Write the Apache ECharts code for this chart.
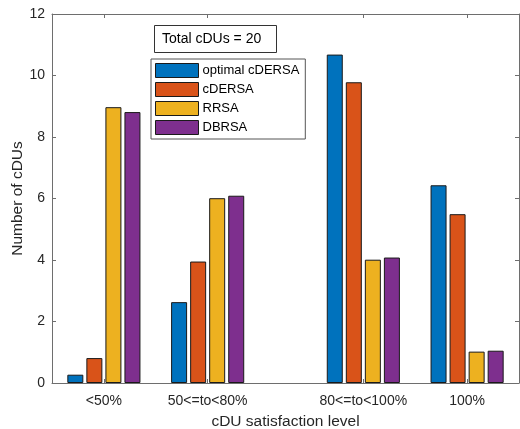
<!DOCTYPE html>
<html>
<head>
<meta charset="utf-8">
<script src="https://cdn.jsdelivr.net/npm/echarts@6/dist/echarts.min.js"></script>
<style>
html,body{margin:0;padding:0;background:#fff;}
#c{width:520px;height:429px;}
</style>
</head>
<body>
<div id="c"></div>
<script>
// ---- data ----
const categories = ['<50%', '50<=to<80%', '80<=to<100%', '100%'];
const categoryX = [1, 2, 3.5, 4.5];
const seriesNames = ['optimal cDERSA', 'cDERSA', 'RRSA', 'DBRSA'];
const optimalCDERSA = [0.27, 2.63, 10.68, 6.43];
const cDERSA = [0.81, 3.95, 9.78, 5.49];
const RRSA = [8.97, 6.01, 4.01, 1.02];
const DBRSA = [8.81, 6.09, 4.08, 1.05];
const yTicks = [0, 2, 4, 6, 8, 10, 12];
const annotation = 'Total cDUs = 20';

// ---- chart ----
const colors = ['#0072BD', '#D95319', '#EDB120', '#7E2F8E'];
const allValues = [optimalCDERSA, cDERSA, RRSA, DBRSA];
const font = 'Liberation Sans, Arial, Helvetica, sans-serif';
const axisColor = '#6e6e6e';
const textColor = '#262626';

const chart = echarts.init(document.getElementById('c'), null, {renderer: 'canvas'});

const series = seriesNames.map((name, i) => ({
  name: name,
  type: 'bar',
  xAxisIndex: 0,
  yAxisIndex: 0,
  barWidth: 16,
  barGap: '19%',
  data: categoryX.map((x, j) => [x, allValues[i][j]]),
  itemStyle: {color: colors[i], borderColor: '#1a1a1a', borderWidth: 1},
  emphasis: {disabled: true},
  animation: false
}));

const labelFor = v => {
  const idx = categoryX.findIndex(x => Math.abs(x - v) < 1e-6);
  return idx >= 0 ? categories[idx] : '';
};

chart.setOption({
  animation: false,
  textStyle: {fontFamily: font},
  title: {
    text: annotation,
    left: 154,
    top: 25,
    padding: [7, 16, 7, 8],
    borderColor: '#333',
    borderWidth: 1,
    backgroundColor: '#fff',
    textStyle: {fontSize: 14, fontWeight: 'normal', color: '#000', fontFamily: font}
  },
  legend: {
    orient: 'vertical',
    left: 151,
    top: 59,
    padding: [4, 6, 4, 4],
    itemWidth: 43,
    itemHeight: 14,
    itemGap: 4,
    borderColor: '#555',
    borderWidth: 1,
    backgroundColor: '#fff',
    icon: 'rect',
    selectedMode: false,
    itemStyle: {borderWidth: 1, borderColor: '#1a1a1a'},
    textStyle: {fontSize: 13, color: '#000', fontFamily: font, padding: [0, 0, 0, -1]},
    data: seriesNames
  },
  grid: {left: 52, right: 1, top: 14, bottom: 46, containLabel: false, outerBoundsMode: 'none'},
  xAxis: [{
    type: 'value',
    min: 0.5,
    max: 5,
    position: 'bottom',
    name: 'cDU satisfaction level',
    nameLocation: 'middle',
    nameGap: 31,
    nameMoveOverlap: false,
    nameTextStyle: {fontSize: 15.5, color: textColor, fontFamily: font},
    axisLine: {show: true, lineStyle: {color: axisColor, width: 1}},
    axisTick: {show: true, inside: true, length: 4, customValues: categoryX, lineStyle: {color: axisColor}},
    axisLabel: {show: true, customValues: categoryX, formatter: labelFor, fontSize: 14, color: textColor, margin: 11, fontFamily: font},
    splitLine: {show: false}
  }, {
    type: 'value',
    min: 0.5,
    max: 5,
    position: 'top',
    axisLine: {show: true, onZero: false, lineStyle: {color: axisColor, width: 1}},
    axisTick: {show: true, inside: true, length: 4, customValues: categoryX, lineStyle: {color: axisColor}},
    axisLabel: {show: false},
    splitLine: {show: false}
  }],
  yAxis: [{
    type: 'value',
    min: 0,
    max: 12,
    interval: 2,
    position: 'left',
    name: 'Number of cDUs',
    nameLocation: 'middle',
    nameGap: 26,
    nameMoveOverlap: false,
    nameTextStyle: {fontSize: 15.5, color: textColor, fontFamily: font},
    axisLine: {show: true, lineStyle: {color: axisColor, width: 1}},
    axisTick: {show: true, inside: true, length: 4, lineStyle: {color: axisColor}},
    axisLabel: {fontSize: 14, color: textColor, margin: 7, fontFamily: font, formatter: v => String(v)},
    splitLine: {show: false}
  }, {
    type: 'value',
    min: 0,
    max: 12,
    interval: 2,
    position: 'right',
    axisLine: {show: true, onZero: false, lineStyle: {color: axisColor, width: 1}},
    axisTick: {show: true, inside: true, length: 4, lineStyle: {color: axisColor}},
    axisLabel: {show: false},
    splitLine: {show: false}
  }],
  series: series
});
</script>
</body>
</html>
